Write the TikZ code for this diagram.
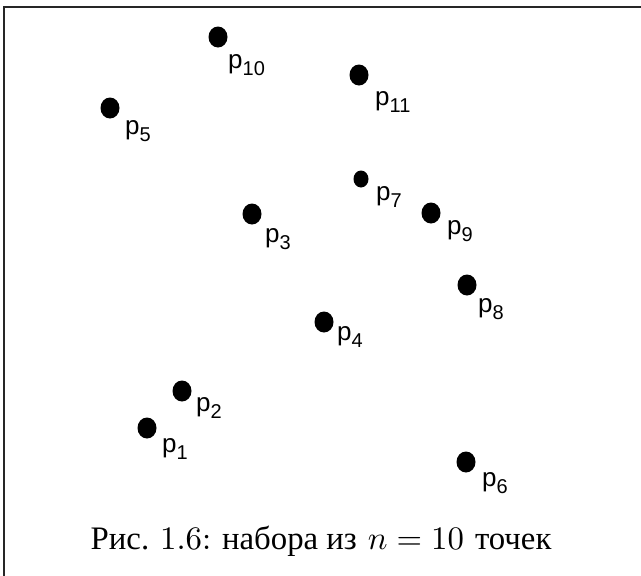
\documentclass[tikz,border=0pt]{standalone}
\usepackage{fontspec}
\newfontfamily\lblfont{Liberation Sans}
\newfontfamily\cyrfont{Liberation Serif}
\usetikzlibrary{shapes.geometric}
\frenchspacing
\newcommand\plab[1]{p\raisebox{-7pt}{\fontsize{20}{20}\selectfont #1}}
\begin{document}
\begin{tikzpicture}[x=1pt,y=-1pt,
  pt/.style={ellipse,fill=black,inner sep=0pt,minimum width=19pt,minimum height=21pt},
  smallpt/.style={pt,minimum width=15pt,minimum height=17pt},
  lbl/.style={anchor=north west,inner sep=0pt,font=\lblfont\fontsize{26}{26}\selectfont},
  frameline/.style={line width=1.5pt,draw=black!85}]
\useasboundingbox (0,0) rectangle (641,576);
\fill[white] (0,0) rectangle (641,576);
\draw[frameline] (4,576) -- (4,7) -- (641,7);

\node[pt] (p1) at (147,428) {};
\node[lbl] (l1) at (162,438) {\plab{1}};
\node[pt] (p2) at (182,391) {};
\node[lbl] (l2) at (196,397) {\plab{2}};
\node[pt] (p3) at (252,214) {};
\node[lbl] (l3) at (265,228) {\plab{3}};
\node[pt] (p4) at (324,322) {};
\node[lbl] (l4) at (337,326) {\plab{4}};
\node[pt] (p5) at (110,108) {};
\node[lbl] (l5) at (125,120) {\plab{5}};
\node[pt] (p6) at (466,462) {};
\node[lbl] (l6) at (482,472) {\plab{6}};
\node[smallpt] (p7) at (361,179) {};
\node[lbl] (l7) at (376,186) {\plab{7}};
\node[pt] (p8) at (467,285) {};
\node[lbl] (l8) at (478,298) {\plab{8}};
\node[pt] (p9) at (431,213) {};
\node[lbl] (l9) at (447,220) {\plab{9}};
\node[pt] (p10) at (218,37) {};
\node[lbl] (l10) at (228,54) {\plab{10}};
\node[pt] (p11) at (359,75) {};
\node[lbl] (l11) at (375,91) {\plab{11}};

\node[anchor=base west,inner sep=0pt,scale=3.28] (cap) at (90,549)
  {{\cyrfont Рис.} 1.6: {\cyrfont набора из} $n = 10$ {\cyrfont точек}};
\end{tikzpicture}
\end{document}
